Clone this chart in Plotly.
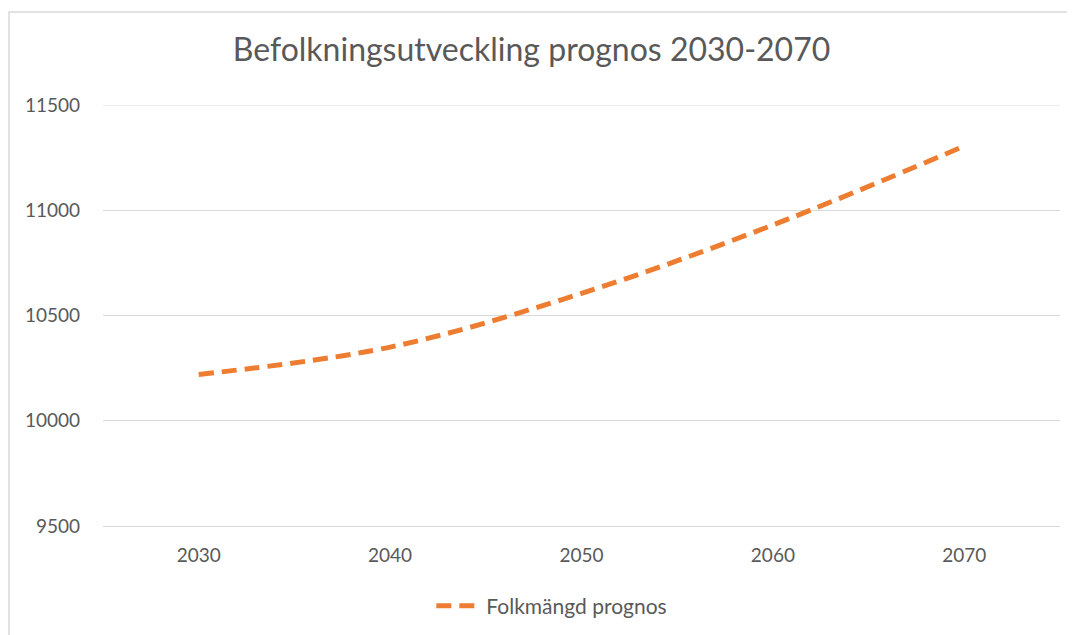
import plotly.graph_objects as go

years = ["2030", "2040", "2050", "2060", "2070"]
population = [10220, 10350, 10605, 10930, 11305]
y_ticks = [9500, 10000, 10500, 11000, 11500]

TEXT = "#595959"
GRID = "#D9D9D9"
ORANGE = "#ED7D31"

fig = go.Figure()
fig.add_trace(
    go.Scatter(
        x=years,
        y=population,
        mode="lines",
        name="Folkmängd prognos",
        line={"color": ORANGE, "width": 5, "dash": "15px,8px", "shape": "spline"},
    )
)

# page body adds an 8px offset, so margins are shifted by that amount
fig.update_layout(
    width=1075,
    height=635,
    margin={"l": 95, "r": 23, "t": 97, "b": 117, "autoexpand": False},
    paper_bgcolor="white",
    plot_bgcolor="white",
    font={"family": "Lato, 'Open Sans', sans-serif", "color": TEXT, "size": 19},
    title={
        "text": "Befolkningsutveckling prognos 2030-2070",
        "x": 0.487,
        "xanchor": "center",
        "y": 0.934,
        "yanchor": "middle",
        "font": {"size": 32, "color": TEXT},
    },
    xaxis={
        "type": "category",
        "range": [-0.5, 4.5],
        "showgrid": False,
        "showline": True,
        "linecolor": GRID,
        "linewidth": 1,
        "ticks": "",
        "ticklabelstandoff": 12,
    },
    yaxis={
        "range": [9500, 11500],
        "tickvals": y_ticks,
        "ticktext": [str(v) for v in y_ticks],
        "showgrid": True,
        "gridcolor": GRID,
        "gridwidth": 1,
        "zeroline": False,
        "showline": False,
        "ticks": "",
        "ticklabelstandoff": 22,
    },
    showlegend=True,
    legend={
        "orientation": "h",
        "x": 0.469,
        "xanchor": "center",
        "y": -0.19,
        "yanchor": "middle",
        "font": {"size": 21, "color": TEXT},
        "itemwidth": 45,
    },
)

# top gridline at 11500 sits on the range edge, draw it explicitly
fig.add_hline(y=11500, line={"color": GRID, "width": 1}, layer="below")
# light frame around the chart area, like the original sheet
fig.add_shape(
    type="rect", xref="paper", yref="paper",
    x0=-0.0982, x1=1.2, y0=-0.5, y1=1.2209,
    line={"color": GRID, "width": 1.5}, fillcolor="rgba(0,0,0,0)", layer="below",
)

fig.write_html("out.html")
